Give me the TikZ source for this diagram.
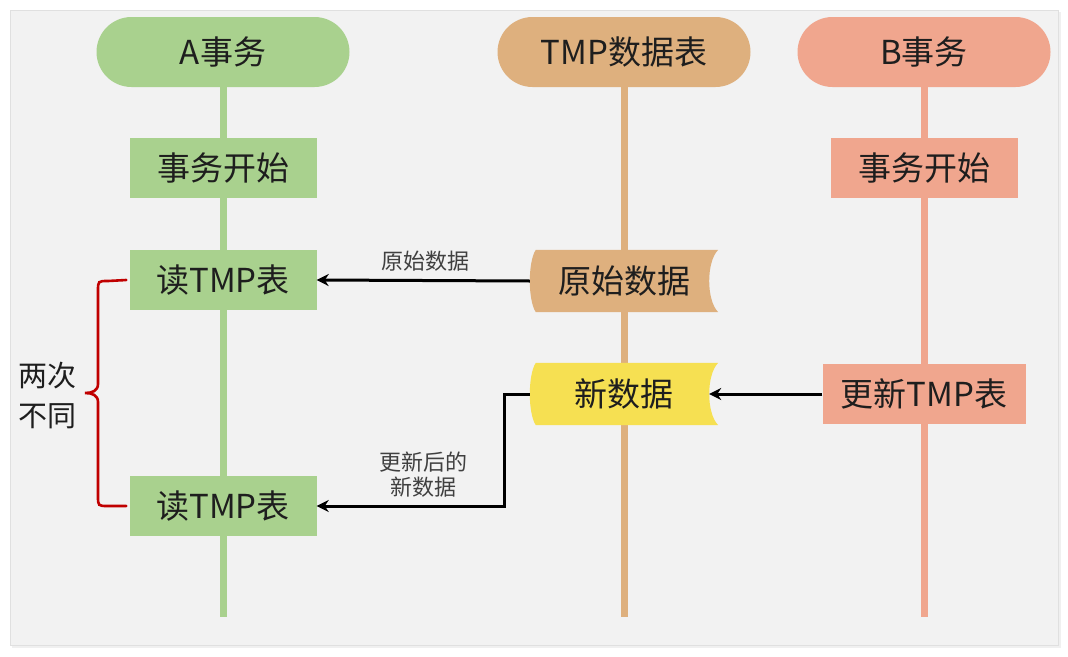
\documentclass[tikz,border=0pt]{standalone}
\usepackage{fontspec}
\setmainfont{Noto Sans CJK SC}
\usetikzlibrary{arrows.meta,calc}
\pgfdeclarelayer{bg}
\pgfdeclarelayer{mid}
\pgfsetlayers{bg,mid,main}
\definecolor{panelc}{HTML}{F2F2F2}
\definecolor{agreen}{HTML}{A9D18E}
\definecolor{ttan}{HTML}{DEB07E}
\definecolor{bsalmon}{HTML}{F0A68E}
\definecolor{nyellow}{HTML}{F6E052}
\definecolor{bred}{HTML}{C00000}
\definecolor{txt}{HTML}{1E1E1E}
\tikzset{
  pill/.style={rounded corners=35pt, minimum width=253pt, minimum height=70pt, inner sep=0pt, text=txt, font=\fontsize{33}{38}\selectfont},
  boxa/.style={fill=agreen, minimum width=187pt, minimum height=60pt, inner sep=0pt, text=txt, font=\fontsize{33}{38}\selectfont},
  boxb/.style={fill=bsalmon, minimum height=60pt, inner sep=0pt, text=txt, font=\fontsize{33}{38}\selectfont},
  tagn/.style={minimum width=188pt, minimum height=62pt, inner sep=0pt, text=txt, font=\fontsize{33}{38}\selectfont},
  life/.style={line width=7pt},
  lbl/.style={text=txt!85, font=\fontsize{22}{25}\selectfont, align=center, inner sep=0pt},
  arr/.style={line width=3pt, -{Stealth[length=12pt,width=12pt]}},
  brc/.style={draw=bred, line width=2.6pt, line cap=round},
}
\begin{document}
\begin{tikzpicture}[x=1pt,y=-1pt]
\useasboundingbox (0,0) rectangle (1068,656);
\begin{pgfonlayer}{bg}
\fill[white] (0,0) rectangle (1068,656);
\fill[black!6] (12,12) rectangle (1061,648);
\fill[panelc] (10,10) rectangle (1058,645);
\draw[black!12, line width=0.8pt] (10,10) rectangle (1058,645);
\end{pgfonlayer}

% headers
\node[pill, fill=agreen] (pa) at (223,52) {A事务};
\node[pill, fill=ttan] (pt) at (624,52) {TMP数据表};
\node[pill, fill=bsalmon] (pb) at (924,52) {B事务};

\coordinate (ea) at (223,617);
\coordinate (et) at (624,617);
\coordinate (eb) at (924,617);
\begin{pgfonlayer}{bg}
\draw[life, agreen] (pa.south) -- (ea);
\draw[life, ttan] (pt.south) -- (et);
\draw[life, bsalmon] (pb.south) -- (eb);
\end{pgfonlayer}

% A column
\node[boxa] (sa) at (223,168) {事务开始};
\node[boxa] (r1) at (223,280) {读TMP表};
\node[boxa] (r2) at (223,506) {读TMP表};

% B column
\node[boxb, minimum width=187pt] (sb) at (924,168) {事务开始};
\node[boxb, minimum width=203pt] (ub) at (924,394) {更新TMP表};

% tags
\node[tagn] (t1) at (624,281) {原始数据};
\node[tagn] (t2) at (624,394) {新数据};
\begin{pgfonlayer}{mid}
\foreach \t/\c in {t1/ttan, t2/nyellow}{
  \fill[\c] ($(\t.north west)+(6,0)$) -- (\t.north east)
    .. controls +(-12,12) and +(-12,-12) .. (\t.south east)
    -- ($(\t.south west)+(6,0)$)
    .. controls +(-8,-12) and +(-8,12) .. cycle;
}
\end{pgfonlayer}

% arrows
\draw[arr] (t1.west) -- (r1.east);
\draw[arr] (ub.west) -- ($(t2.east)+(-9,0)$);
\draw[arr] (t2.west) -- ++(-25,0) |- (r2.east);

% labels
\node[lbl] (l1) at (425,261) {原始数据};
\node[lbl] (l2) at (423,475) {更新后的\\新数据};

% brace
\draw[brc] ($(r1.west)+(-3,0)$) -- (108,281) .. controls (98,281) .. (98,291)
  -- (98,384) .. controls (98,391) and (92,393) .. (85,393)
  .. controls (92,393) and (98,395) .. (98,402)
  -- (98,496) .. controls (98,506) .. (108,506) -- ($(r2.west)+(-3,0)$);
\node[text=txt, font=\fontsize{29}{40}\selectfont, align=center, inner sep=0pt] (diff) at (47,396) {两次\\不同};
\end{tikzpicture}
\end{document}
